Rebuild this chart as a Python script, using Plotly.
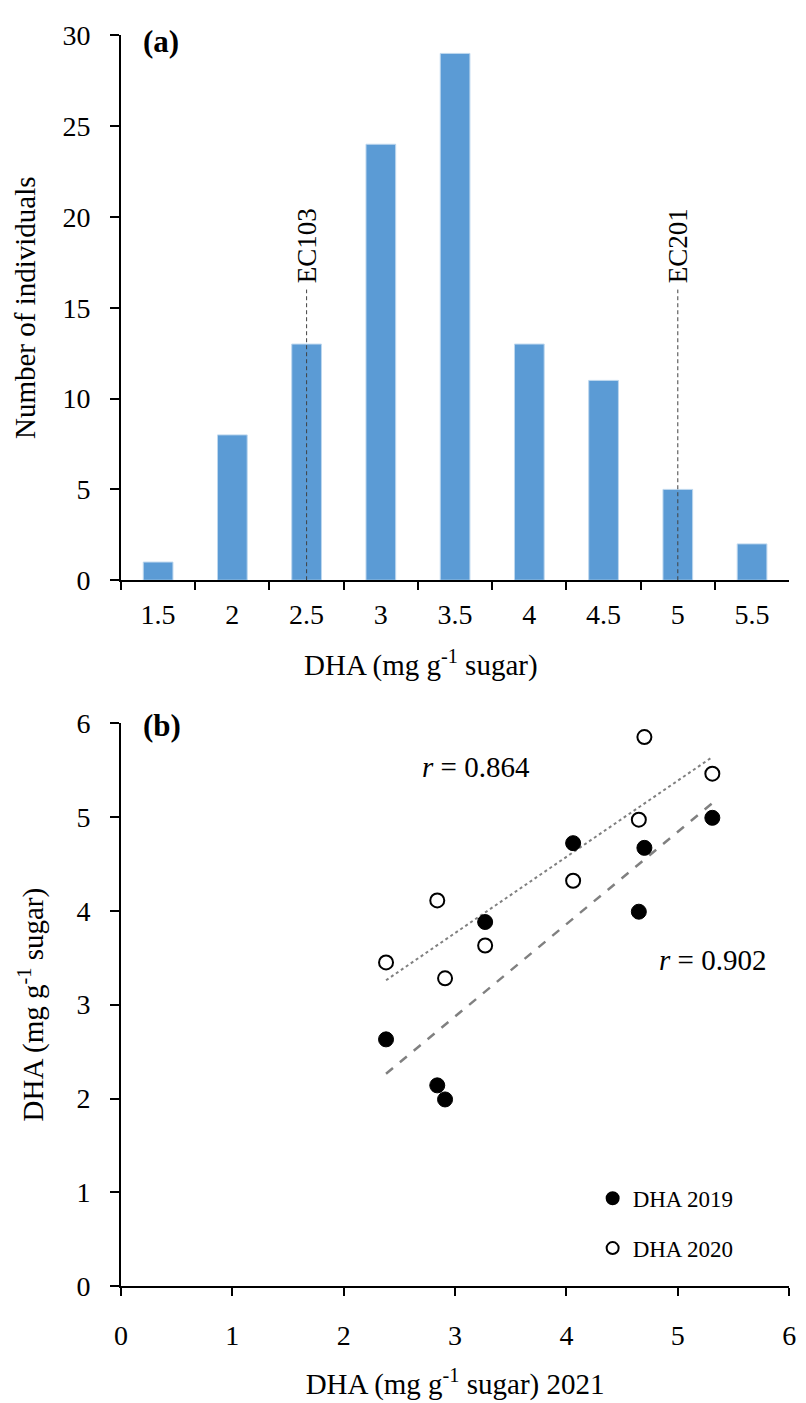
import numpy as np
import plotly.graph_objects as go

# ---------------- data ----------------
bins = ["1.5", "2", "2.5", "3", "3.5", "4", "4.5", "5", "5.5"]
counts = [1, 8, 13, 24, 29, 13, 11, 5, 2]

ec_names = ["EC103", "EC201"]
ec_bins = ["2.5", "5"]
ec_line_top = 16

dha2021 = [2.38, 2.84, 2.91, 3.27, 4.06, 4.65, 4.70, 5.31]
dha2019 = [2.63, 2.14, 1.99, 3.88, 4.72, 3.99, 4.67, 4.99]
dha2020 = [3.45, 4.11, 3.28, 3.63, 4.32, 4.97, 5.85, 5.46]

r2019 = "0.902"
r2020 = "0.864"

# ---------------- figure ----------------
W, H = 806, 1403
FONT = "Liberation Serif, serif"

def px_x(p):
    return p / W

def px_y(p):
    return (H - p) / H

fig = go.Figure()

fig.add_trace(go.Bar(
    x=bins, y=counts, xaxis="x", yaxis="y",
    marker=dict(color="#5B9BD5", line=dict(color="#BDD7EE", width=1)),
    showlegend=False, hoverinfo="x+y",
))

for name, b in zip(ec_names, ec_bins):
    fig.add_trace(go.Scatter(
        x=[b, b], y=[0, ec_line_top], xaxis="x", yaxis="y", mode="lines",
        line=dict(color="#404040", width=1, dash="4px,3px"),
        showlegend=False, hoverinfo="skip",
    ))
    fig.add_annotation(
        x=bins.index(b), y=ec_line_top + 0.25, xref="x", yref="y", text=name,
        textangle=-90, showarrow=False, xanchor="center", yanchor="bottom",
        font=dict(family=FONT, size=27, color="black"),
    )

# trend lines
xs = np.array(dha2021)
for ys, dash, w in [(dha2020, "dot", 2), (dha2019, "dash", 2.5)]:
    k, b0 = np.polyfit(xs, np.array(ys), 1)
    xl = np.array([xs.min(), xs.max()])
    fig.add_trace(go.Scatter(
        x=xl, y=k * xl + b0, xaxis="x2", yaxis="y2", mode="lines",
        line=dict(color="#808080", width=w, dash=dash),
        showlegend=False, hoverinfo="skip",
    ))

fig.add_trace(go.Scatter(
    x=dha2021, y=dha2019, xaxis="x2", yaxis="y2", mode="markers",
    name="DHA 2019", legend="legend",
    marker=dict(symbol="circle", size=15, color="black",
                line=dict(color="black", width=1)),
))
fig.add_trace(go.Scatter(
    x=dha2021, y=dha2020, xaxis="x2", yaxis="y2", mode="markers",
    name="DHA 2020", legend="legend2",
    marker=dict(symbol="circle", size=14, color="white",
                line=dict(color="black", width=2)),
))

axis_common = dict(
    showline=True, linecolor="black", linewidth=2,
    ticks="outside", tickcolor="black", tickwidth=2,
    showgrid=False, zeroline=False,
    tickfont=dict(family=FONT, size=28, color="black"),
)

fig.update_layout(
    width=W, height=H,
    margin=dict(l=0, r=0, t=0, b=0),
    paper_bgcolor="white", plot_bgcolor="white",
    font=dict(family=FONT, color="black"),
    bargap=0.6,
    xaxis=dict(
        **axis_common, type="category", tickson="boundaries", ticklen=8,
        domain=[px_x(116), px_x(796)], anchor="y", range=[-0.5, 8.5],
        ticklabelstandoff=8,
    ),
    yaxis=dict(
        **axis_common, domain=[px_y(578), px_y(20.7)], anchor="x",
        range=[0, 30], dtick=5, ticklen=9, ticklabelstandoff=14,
        title=dict(text="Number of individuals",
                   font=dict(family=FONT, size=29, color="black"), standoff=18),
    ),
    xaxis2=dict(
        **axis_common, domain=[px_x(116), px_x(796)], anchor="y2",
        range=[0, 6], dtick=1, ticklen=8, ticklabelstandoff=15,
        title=dict(text="DHA (mg g<sup>-1</sup> sugar) 2021",
                   font=dict(family=FONT, size=29, color="black"), standoff=24),
    ),
    yaxis2=dict(
        **axis_common, domain=[px_y(1300), px_y(724)], anchor="x2",
        range=[0, 6], dtick=1, ticklen=9, ticklabelstandoff=14,
        title=dict(text="DHA (mg g<sup>-1</sup> sugar)",
                   font=dict(family=FONT, size=29, color="black"), standoff=24),
    ),
    legend=dict(x=px_x(596), y=px_y(1210), xanchor="left", yanchor="middle",
                font=dict(family=FONT, size=23, color="black"),
                itemsizing="constant", bgcolor="rgba(0,0,0,0)"),
    legend2=dict(x=px_x(596), y=px_y(1261), xanchor="left", yanchor="middle",
                 font=dict(family=FONT, size=23, color="black"),
                 itemsizing="constant", bgcolor="rgba(0,0,0,0)"),
)

fig.add_annotation(x=px_x(136), y=px_y(27), xref="paper", yref="paper",
                   text="<b>(a)</b>", showarrow=False, xanchor="left", yanchor="middle",
                   font=dict(family=FONT, size=31, color="black"))
fig.add_annotation(x=px_x(136), y=px_y(727), xref="paper", yref="paper",
                   text="<b>(b)</b>", showarrow=False, xanchor="left", yanchor="middle",
                   font=dict(family=FONT, size=31, color="black"))
fig.add_annotation(x=px_x(421), y=px_y(663), xref="paper", yref="paper",
                   text="DHA (mg g<sup>-1</sup> sugar)", showarrow=False,
                   xanchor="center", yanchor="middle",
                   font=dict(family=FONT, size=29, color="black"))
fig.add_annotation(x=3.19, y=5.53, xref="x2", yref="y2",
                   text=f"<i>r</i> = {r2020}", showarrow=False,
                   font=dict(family=FONT, size=29, color="black"))
fig.add_annotation(x=5.31, y=3.48, xref="x2", yref="y2",
                   text=f"<i>r</i> = {r2019}", showarrow=False,
                   font=dict(family=FONT, size=29, color="black"))

fig.write_html("out.html")
